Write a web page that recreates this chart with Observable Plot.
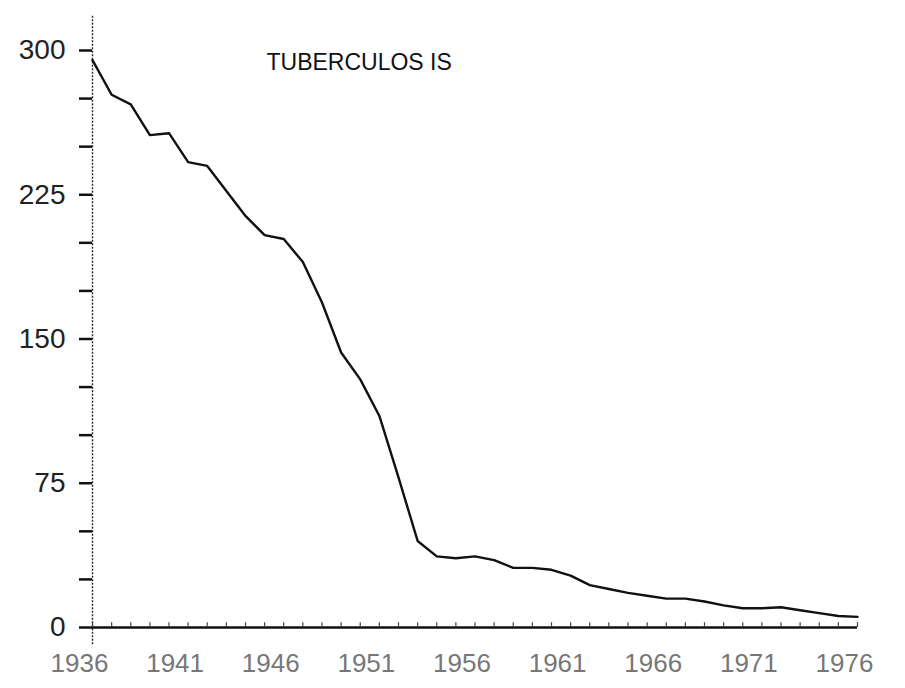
<!DOCTYPE html>
<html>
<head>
<meta charset="utf-8">
<script src="https://cdn.jsdelivr.net/npm/d3@7"></script>
<script src="https://cdn.jsdelivr.net/npm/@observablehq/plot@0.6"></script>
<style>
  html, body { margin: 0; padding: 0; background: #fff; }
  #chart { width: 905px; height: 688px; }
</style>
</head>
<body>
<div id="chart"></div>
<script>
const title = "TUBERCULOS IS";
const years = d3.range(1936, 1977);
const rates = [
  295, 277, 272, 256, 257, 242, 240, 227, 214, 204,
  202, 190, 169, 143, 129, 110, 78, 45, 37, 36,
  37, 35, 31, 31, 30, 27, 22, 20, 18, 16.5,
  15, 15, 13.5, 11.5, 10, 10, 10.5, 9, 7.5, 6,
  5.5
];
const yTicks = d3.range(0, 301, 25);
const yLabels = [0, 75, 150, 225, 300];
const xLabels = [1936, 1941, 1946, 1951, 1956, 1961, 1966, 1971, 1976];

const data = years.map((y, i) => ({year: y, value: rates[i]}));

const chart = Plot.plot({
  width: 905,
  height: 688,
  marginLeft: 92,
  marginRight: 48,
  marginTop: 50,
  marginBottom: 61,
  style: {fontFamily: "Liberation Sans, sans-serif", background: "#fff"},
  x: {domain: [1936, 1976], label: null},
  y: {domain: [0, 300], label: null},
  marks: [
    // y axis line (dotted, extends past the domain)
    Plot.ruleX([1936], {y1: -9, y2: 318, stroke: "#222", strokeWidth: 1.4, strokeDasharray: "2,1.5"}),
    Plot.axisY({ticks: yTicks, tickSize: 13, tickPadding: 14, strokeWidth: 2.5, stroke: "#111", label: null,
      tickFormat: d => yLabels.includes(d) ? String(d) : "", fontSize: 28, fill: "#222"}),
    // x axis
    Plot.ruleY([0], {x1: 1936, x2: 1976, stroke: "#111", strokeWidth: 2.5}),
    Plot.ruleX(years, {x: d => d, y1: 0, y2: 2.5, stroke: "#444", strokeWidth: 1.2}),
    Plot.axisX({ticks: xLabels, tickSize: 0, tickPadding: 26, tickFormat: d => String(d), label: null,
      fontSize: 26, fill: "#777", dx: -13}),
    // data line
    Plot.line(data, {x: "year", y: "value", stroke: "#111", strokeWidth: 2.4, strokeLinejoin: "round"}),
    // title
    Plot.text([title], {frameAnchor: "top-left", dx: 174, dy: 12, text: d => d, fontSize: 23,
      textAnchor: "start", lineAnchor: "middle", fill: "#111"})
  ]
});
document.getElementById("chart").append(chart);
</script>
</body>
</html>
